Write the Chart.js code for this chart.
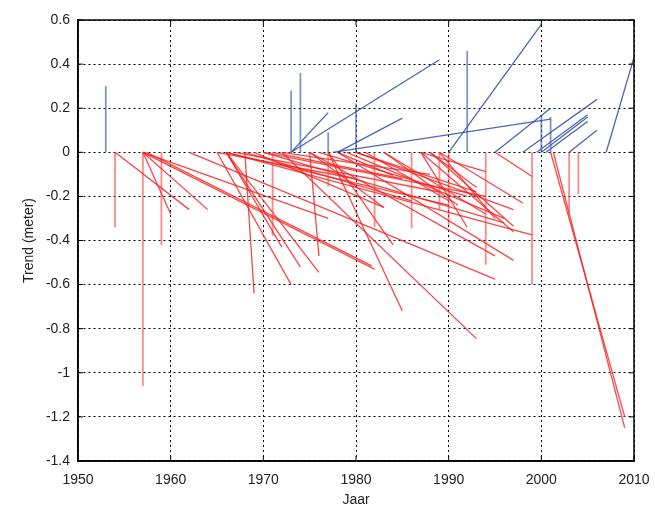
<!DOCTYPE html>
<html>
<head>
<meta charset="utf-8">
<script src="https://cdn.jsdelivr.net/npm/chart.js@4"></script>
<style>
html,body{margin:0;padding:0;background:#fff;}
#wrap{width:655px;height:511px;position:relative;}
</style>
</head>
<body>
<div id="wrap"><canvas id="c" width="655" height="511"></canvas></div>
<script>
// Negative trends: segment from (start year, 0) to (end year, value)
const redStart = [1954,1954,1957,1957,1957,1957,1957.4,1957,1959,1966,1968,1971,1966,1966,1965,1975,1977,1977,1972,1962,1982,1975,1977,1978,1986,1989,1990,1994,1995,1999,2003,2004,2001,2001.3,1987,1988,1989,1980,1970,1988,1966,1975,1978,1983,1987,1969,1966,1967,1970,1972,1971,1976,1979,1981,1983,1987,1989,1965,1968,1980];
const redEnd   = [1954,1962,1957,1960,1964,1982,1981.7,1977,1959,1972,1969,1971,1974,1976,1973,1976,1977,1985,1993,1995,1982,1983,1984,1984,1986,1989,1990,1994,1999,1999,2003,2004,2009,2009,1994,1993,1998,1997,1996,1997,1999,1995,1997,1991,1992,1983,1990,1989,1994,1988,1985,1992,1996,1990,1994,1997,1995,1980,1986,1993];
const redValue = [-0.34,-0.26,-1.06,-0.28,-0.26,-0.53,-0.515,-0.30,-0.42,-0.43,-0.64,-0.38,-0.52,-0.545,-0.60,-0.47,-0.155,-0.72,-0.845,-0.575,-0.34,-0.25,-0.42,-0.105,-0.345,-0.26,-0.33,-0.51,-0.11,-0.60,-0.28,-0.19,-1.20,-1.25,-0.088,-0.16,-0.23,-0.26,-0.32,-0.335,-0.375,-0.47,-0.49,-0.24,-0.34,-0.25,-0.24,-0.18,-0.20,-0.10,-0.12,-0.20,-0.30,-0.22,-0.28,-0.36,-0.30,-0.12,-0.22,-0.18];

// Positive trends
const blueStart = [1953,1973,1974,1973,1973,1977,1978,1977.5,1980,1992,1990,1995,2000,2001,1998,1999.5,2000,2000.5,2003,2007];
const blueEnd   = [1953,1973,1974,1977,1989,1977,1985,2001,1980,1992,2000,2001,2000,2001,2006,2005,2005,2005,2006,2010];
const blueValue = [0.30,0.28,0.36,0.18,0.42,0.09,0.155,0.15,0.22,0.46,0.58,0.20,0.17,0.16,0.24,0.17,0.16,0.14,0.10,0.43];

const xTicks = [1950,1960,1970,1980,1990,2000,2010];
const yTicks = [-1.4,-1.2,-1,-0.8,-0.6,-0.4,-0.2,0,0.2,0.4,0.6];

const datasets = [];
blueStart.forEach((s,i)=>{
  const vert = s===blueEnd[i];
  datasets.push({data:[{x:s,y:0},{x:blueEnd[i],y:blueValue[i]}],
    borderColor: vert ? 'rgba(60,90,180,0.65)' : 'rgba(45,75,165,0.85)',
    borderWidth: vert ? 1.8 : 1.3, pointRadius:0, tension:0});
});
redStart.forEach((s,i)=>{
  const vert = s===redEnd[i];
  datasets.push({data:[{x:s,y:0},{x:redEnd[i],y:redValue[i]}],
    borderColor: vert ? 'rgba(250,60,60,0.6)' : 'rgba(245,30,30,0.82)',
    borderWidth: vert ? 1.8 : 1.3, pointRadius:0, tension:0});
});

const boxPlugin = {
  id:'box',
  afterDraw(chart){
    const {ctx, chartArea:a, scales} = chart;
    ctx.save();
    ctx.strokeStyle='#000';
    ctx.lineWidth=1.5;
    ctx.strokeRect(a.left,a.top,a.right-a.left,a.bottom-a.top);
    ctx.lineWidth=1;
    ctx.beginPath();
    xTicks.forEach(t=>{
      const x=scales.x.getPixelForValue(t);
      ctx.moveTo(x,a.bottom);ctx.lineTo(x,a.bottom-5);
      ctx.moveTo(x,a.top);ctx.lineTo(x,a.top+5);
    });
    yTicks.forEach(t=>{
      const y=scales.y.getPixelForValue(t);
      ctx.moveTo(a.left,y);ctx.lineTo(a.left+5,y);
      ctx.moveTo(a.right,y);ctx.lineTo(a.right-5,y);
    });
    ctx.stroke();
    ctx.restore();
  }
};

const font = {family:'"Liberation Sans", Arial, Helvetica, sans-serif', size:14};

new Chart(document.getElementById('c'),{
  type:'line',
  data:{datasets},
  options:{
    responsive:false,
    animation:false,
    events:[],
    layout:{padding:{top:20,right:21,bottom:0,left:0}},
    plugins:{legend:{display:false},tooltip:{enabled:false}},
    scales:{
      x:{
        type:'linear',min:1950,max:2010,
        afterBuildTicks:s=>{s.ticks=xTicks.map(v=>({value:v}));},
        afterFit:s=>{s.height=50;s.paddingLeft=0;s.paddingRight=0;},
        grid:{color:'#000',lineWidth:1,drawTicks:false},
        border:{display:true,color:'#000',width:1.5,dash:[2,3]},
        ticks:{color:'#222',font,padding:11,maxRotation:0,callback:v=>String(v)},
        title:{display:true,text:'Jaar',color:'#222',font,padding:{top:0,bottom:2}}
      },
      y:{
        type:'linear',min:-1.4,max:0.6,
        afterBuildTicks:s=>{s.ticks=yTicks.map(v=>({value:v}));},
        afterFit:s=>{s.width=78;s.paddingTop=0;s.paddingBottom=0;},
        grid:{color:'#000',lineWidth:1,drawTicks:false},
        border:{display:true,color:'#000',width:1.5,dash:[2,3]},
        ticks:{color:'#222',font,padding:8,callback:v=>String(Number(v.toFixed(1)))},
        title:{display:true,text:'Trend (meter)',color:'#222',font,padding:{top:21,bottom:0}}
      }
    }
  },
  plugins:[boxPlugin]
});
</script>
</body>
</html>
